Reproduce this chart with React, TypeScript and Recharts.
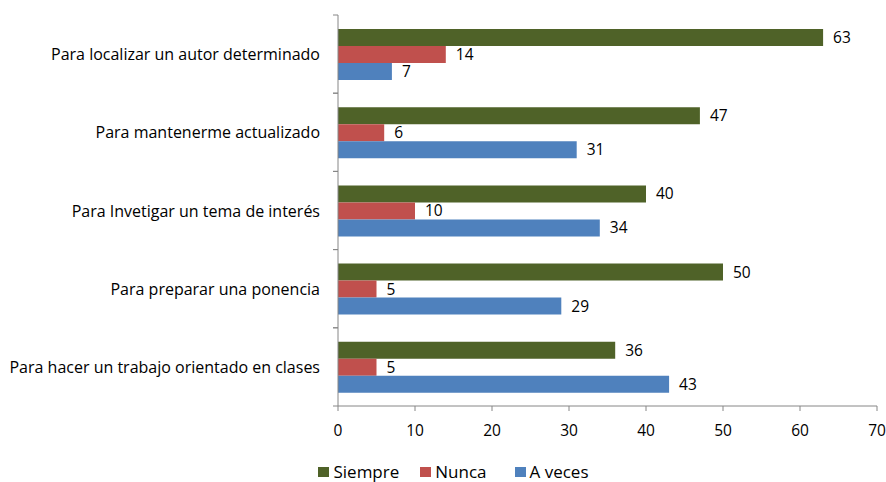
import { BarChart, Bar, XAxis, YAxis, LabelList, Legend } from "recharts";

const categories = [
  "Para localizar un autor determinado",
  "Para mantenerme actualizado",
  "Para Invetigar un tema de interés",
  "Para preparar una ponencia",
  "Para hacer un trabajo orientado en clases",
];
const siempre = [63, 47, 40, 50, 36];
const nunca = [14, 6, 10, 5, 5];
const aVeces = [7, 31, 34, 29, 43];
const xTicks = [0, 10, 20, 30, 40, 50, 60, 70];

const SERIES = [
  { key: "siempre", name: "Siempre", color: "#4F6228", gap: 21 },
  { key: "nunca", name: "Nunca", color: "#C0504D", gap: 28 },
  { key: "aVeces", name: "A veces", color: "#4F81BD", gap: 0 },
];

const data = categories.map((c, i) => ({
  name: c,
  siempre: siempre[i],
  nunca: nunca[i],
  aVeces: aVeces[i],
}));

const FONT = "'Open Sans', Lato, sans-serif";
const AXIS = "#868686";
const TOP = 15;
const PLOT_H = 391;
const BAND = PLOT_H / categories.length;

function YTick(props: any) {
  const { x, y, payload } = props;
  return (
    <g>
      <line x1={x - 5} x2={x} y1={y - BAND / 2} y2={y - BAND / 2} stroke={AXIS} />
      <line x1={x - 5} x2={x} y1={y + BAND / 2} y2={y + BAND / 2} stroke={AXIS} />
      <text
        x={x - 18}
        y={y}
        textAnchor="end"
        dominantBaseline="central"
        fontSize={16}
        fontFamily={FONT}
        fill="#000"
      >
        {payload.value}
      </text>
    </g>
  );
}

function LegendContent() {
  return (
    <div
      style={{
        height: 36,
        display: "flex",
        justifyContent: "center",
        alignItems: "flex-start",
        paddingTop: 14,
        paddingLeft: 30,
        boxSizing: "border-box",
        fontFamily: FONT,
        fontSize: 17,
        color: "#000",
      }}
    >
      {SERIES.map((s) => (
        <span key={s.key} style={{ display: "flex", alignItems: "center", marginRight: s.gap }}>
          <span style={{ width: 11, height: 10, background: s.color, marginRight: 4 }} />
          {s.name}
        </span>
      ))}
    </div>
  );
}

export default function App() {
  return (
    <div style={{ position: "absolute", left: 0, top: 0, width: 886, height: 482, background: "#fff" }}>
      <BarChart
        width={886}
        height={482}
        data={data}
        layout="vertical"
        margin={{ top: TOP, right: 9, left: 0, bottom: 0 }}
        barGap={0}
        barSize={17}
      >
        <XAxis
          type="number"
          domain={[0, 70]}
          ticks={xTicks}
          interval={0}
          height={40}
          tickSize={5}
          tickMargin={14}
          stroke={AXIS}
          tick={{ fill: "#000", fontSize: 15.5, fontFamily: FONT }}
        />
        <YAxis
          type="category"
          dataKey="name"
          width={338}
          tickLine={false}
          tickSize={0}
          tickMargin={0}
          stroke={AXIS}
          interval={0}
          tick={<YTick />}
        />
        <Legend verticalAlign="bottom" height={36} content={<LegendContent />} />
        {SERIES.map((s) => (
          <Bar key={s.key} dataKey={s.key} name={s.name} fill={s.color} isAnimationActive={false}>
            <LabelList
              dataKey={s.key}
              position="right"
              offset={10}
              fill="#000"
              fontSize={15.5}
              fontFamily={FONT}
            />
          </Bar>
        ))}
      </BarChart>
    </div>
  );
}
